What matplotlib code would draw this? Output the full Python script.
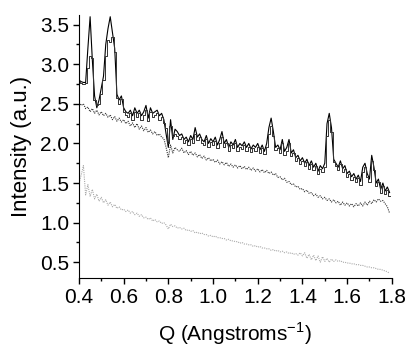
import numpy as np
import matplotlib
matplotlib.use("Agg")
from matplotlib import pyplot as plt
from matplotlib.ticker import MultipleLocator

plt.rcParams['font.family'] = ['Liberation Sans', 'DejaVu Sans']
plt.rcParams['mathtext.fontset'] = 'custom'
plt.rcParams['mathtext.rm'] = 'Liberation Sans'

# Q grid, 0.40 .. 1.79
q = np.round(np.arange(0.40, 1.795, 0.01), 2)

# top solid curve
top_a = [2.80, 2.78, 2.77, 2.77, 3.20, 3.60, 3.05, 2.60, 2.45, 2.55,
         2.70, 2.85, 3.25, 3.45, 3.60, 3.40, 3.20, 2.62, 2.55, 2.60,
         2.45, 2.40, 2.38, 2.42, 2.35, 2.45, 2.38, 2.42, 2.35, 2.40,
         2.48, 2.32, 2.45, 2.38, 2.40, 2.42, 2.35, 2.38, 2.30, 2.12,
         1.95, 2.30, 2.05, 2.18, 2.15, 2.10, 2.12, 2.05, 2.08, 2.02,
         2.10, 2.05, 2.20, 2.08, 2.12, 2.05, 2.02, 2.10, 2.00, 2.06,
         2.02, 2.08, 1.98, 2.05, 2.15, 2.00, 2.05, 1.95, 2.02, 1.98,
         2.05, 1.95, 2.00, 1.97, 2.02, 1.95, 2.00, 1.93, 1.98, 1.95,
         2.00, 1.92, 1.98, 1.90, 2.00, 2.20, 2.32, 2.15, 1.95, 1.98,
         1.92, 2.05, 1.90, 1.95, 2.05, 1.88, 1.92, 1.82, 1.85, 1.78,
         1.82, 1.75, 1.80, 1.72, 1.78, 1.70, 1.75, 1.65, 1.72, 1.68,
         1.75, 2.25, 2.38, 2.20, 1.80, 1.75, 1.70, 1.78, 1.68, 1.72,
         1.62, 1.65, 1.58, 1.62, 1.55, 1.60, 1.52, 1.70, 1.75, 1.62,
         1.55, 1.85, 1.70, 1.50, 1.55, 1.42, 1.50, 1.40, 1.45, 1.38]

# second solid curve (slightly lower, offset)
top_b = [2.78, 2.76, 2.75, 2.76, 2.95, 3.10, 3.08, 2.55, 2.48, 2.50,
         2.62, 2.80, 3.10, 3.30, 3.28, 3.35, 3.15, 2.58, 2.50, 2.56,
         2.40, 2.36, 2.34, 2.38, 2.30, 2.40, 2.34, 2.38, 2.30, 2.36,
         2.42, 2.28, 2.40, 2.34, 2.36, 2.38, 2.30, 2.34, 2.26, 2.20,
         2.00, 2.22, 2.10, 2.12, 2.10, 2.06, 2.08, 2.01, 2.04, 1.98,
         2.05, 2.00, 2.12, 2.04, 2.08, 2.00, 1.98, 2.05, 1.96, 2.02,
         1.98, 2.03, 1.94, 2.00, 2.08, 1.96, 2.00, 1.91, 1.98, 1.94,
         2.00, 1.91, 1.96, 1.93, 1.98, 1.91, 1.96, 1.89, 1.94, 1.91,
         1.96, 1.88, 1.94, 1.87, 1.95, 2.12, 2.22, 2.10, 1.92, 1.94,
         1.88, 2.00, 1.86, 1.91, 2.00, 1.84, 1.88, 1.78, 1.81, 1.74,
         1.78, 1.71, 1.76, 1.68, 1.74, 1.66, 1.71, 1.61, 1.68, 1.64,
         1.70, 2.10, 2.30, 2.15, 1.76, 1.71, 1.66, 1.74, 1.64, 1.68,
         1.58, 1.61, 1.54, 1.58, 1.51, 1.56, 1.48, 1.64, 1.70, 1.58,
         1.51, 1.78, 1.66, 1.46, 1.51, 1.38, 1.46, 1.36, 1.41, 1.34]

# middle dotted curve
mid = [2.52, 2.48, 2.50, 2.44, 2.46, 2.40, 2.44, 2.38, 2.42, 2.36,
       2.40, 2.35, 2.38, 2.33, 2.36, 2.30, 2.34, 2.28, 2.32, 2.27,
       2.30, 2.25, 2.28, 2.22, 2.26, 2.20, 2.25, 2.18, 2.22, 2.16,
       2.20, 2.14, 2.17, 2.12, 2.15, 2.10, 2.12, 2.08, 2.06, 1.95,
       1.82, 1.98, 1.88, 1.95, 1.92, 1.90, 1.94, 1.88, 1.91, 1.86,
       1.90, 1.85, 1.88, 1.83, 1.86, 1.81, 1.84, 1.79, 1.82, 1.78,
       1.80, 1.76, 1.79, 1.74, 1.77, 1.73, 1.76, 1.71, 1.74, 1.70,
       1.73, 1.69, 1.72, 1.68, 1.71, 1.67, 1.70, 1.66, 1.69, 1.65,
       1.68, 1.64, 1.67, 1.63, 1.66, 1.62, 1.64, 1.60, 1.62, 1.57,
       1.58, 1.54, 1.56, 1.51, 1.52, 1.48, 1.49, 1.45, 1.46, 1.42,
       1.43, 1.39, 1.41, 1.37, 1.38, 1.34, 1.36, 1.32, 1.34, 1.30,
       1.32, 1.28, 1.30, 1.26, 1.29, 1.25, 1.27, 1.22, 1.26, 1.22,
       1.25, 1.21, 1.24, 1.20, 1.24, 1.21, 1.25, 1.21, 1.26, 1.22,
       1.27, 1.24, 1.29, 1.26, 1.30, 1.27, 1.28, 1.24, 1.20, 1.12]

# bottom light dotted curve
low = [1.50, 1.60, 1.72, 1.35, 1.48, 1.33, 1.42, 1.30, 1.36, 1.27,
       1.32, 1.25, 1.29, 1.22, 1.26, 1.20, 1.23, 1.18, 1.20, 1.16,
       1.17, 1.14, 1.16, 1.12, 1.14, 1.10, 1.12, 1.08, 1.10, 1.06,
       1.07, 1.04, 1.06, 1.02, 1.04, 1.01, 1.02, 0.99, 1.00, 0.97,
       0.92, 0.98, 0.95, 0.96, 0.93, 0.94, 0.92, 0.93, 0.90, 0.91,
       0.89, 0.90, 0.87, 0.88, 0.86, 0.87, 0.85, 0.85, 0.83, 0.84,
       0.82, 0.83, 0.81, 0.81, 0.80, 0.80, 0.78, 0.79, 0.77, 0.77,
       0.76, 0.76, 0.74, 0.75, 0.73, 0.73, 0.72, 0.72, 0.70, 0.71,
       0.69, 0.70, 0.68, 0.68, 0.67, 0.67, 0.65, 0.66, 0.64, 0.65,
       0.63, 0.64, 0.62, 0.63, 0.61, 0.62, 0.60, 0.61, 0.59, 0.62,
       0.58, 0.62, 0.55, 0.60, 0.53, 0.59, 0.52, 0.58, 0.50, 0.57,
       0.51, 0.55, 0.50, 0.54, 0.51, 0.53, 0.51, 0.52, 0.50, 0.50,
       0.49, 0.49, 0.48, 0.48, 0.47, 0.47, 0.46, 0.46, 0.45, 0.44,
       0.44, 0.43, 0.43, 0.42, 0.41, 0.41, 0.40, 0.39, 0.38, 0.36]

fig = plt.figure(figsize=(4.09, 3.52), dpi=100)
ax = fig.add_axes([0.193, 0.21, 0.765, 0.747])

ax.plot(q, top_a, color='black', lw=0.8)
ax.plot(q, top_b, color='#333333', lw=0.7, drawstyle='steps-mid')
ax.plot(q, mid, color='#333333', lw=0.8, ls=(0, (1, 1)))
ax.plot(q, low, color='#aaaaaa', lw=0.8, ls=(0, (1, 1)))

ax.set_xlim(0.4, 1.8)
ax.set_ylim(0.3, 3.62)
ax.xaxis.set_major_locator(MultipleLocator(0.2))
ax.xaxis.set_minor_locator(MultipleLocator(0.1))
ax.yaxis.set_major_locator(MultipleLocator(0.5))
ax.yaxis.set_minor_locator(MultipleLocator(0.25))
ax.tick_params(which='major', direction='out', length=4, width=1, labelsize=15, pad=3)
ax.tick_params(which='minor', direction='out', length=2, width=1)
ax.spines['top'].set_visible(False)
ax.spines['right'].set_visible(False)

ax.set_xlabel('Q (Angstroms$^{-1}$)', fontsize=15, labelpad=10)
ax.set_ylabel('Intensity (a.u.)', fontsize=16, labelpad=6)

fig.savefig('out.png', dpi=100)
